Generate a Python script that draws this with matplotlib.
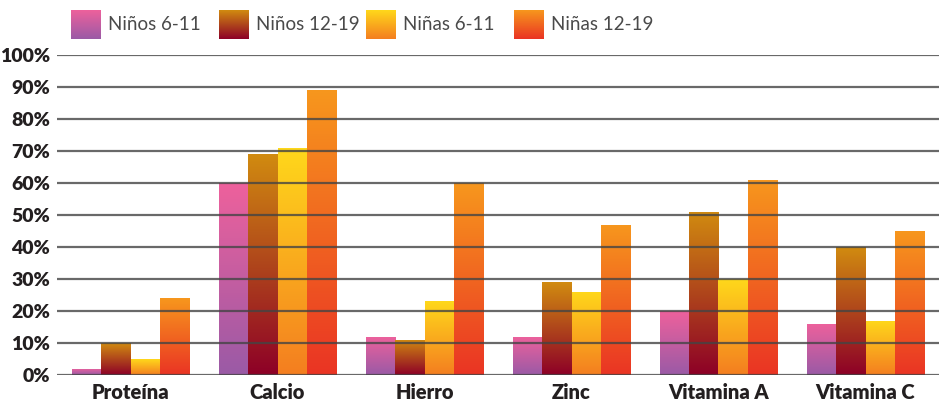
import numpy as np
import matplotlib
matplotlib.use("Agg")
import matplotlib.pyplot as plt
from matplotlib.colors import LinearSegmentedColormap

categories = ["Proteína", "Calcio", "Hierro", "Zinc", "Vitamina A", "Vitamina C"]
series_names = ["Niños 6-11", "Niños 12-19", "Niñas 6-11", "Niñas 12-19"]
ninos_6_11 = [2, 60, 12, 12, 20, 16]
ninos_12_19 = [10, 69, 11, 29, 51, 40]
ninas_6_11 = [5, 71, 23, 26, 30, 17]
ninas_12_19 = [24, 89, 60, 47, 61, 45]
yticks = [0, 10, 20, 30, 40, 50, 60, 70, 80, 90, 100]
ytick_labels = ["0%", "10%", "20%", "30%", "40%", "50%", "60%", "70%", "80%", "90%", "100%"]

series = [ninos_6_11, ninos_12_19, ninas_6_11, ninas_12_19]
# (top color, bottom color)
grads = [("#ee619c", "#9a5aa6"), ("#d18b10", "#8d0027"),
         ("#ffd81b", "#f47e20"), ("#f7971d", "#ea3424")]

plt.rcParams['font.family'] = ['Lato', 'DejaVu Sans']
W, H = 941, 405
fig = plt.figure(figsize=(W / 100, H / 100), dpi=100)
ax = fig.add_axes([57 / W, 1 - 375 / H, (939 - 57) / W, (375 - 55) / H])

n = len(series)
group_w = 0.8
bw = group_w / n
x = np.arange(len(categories))
grad = np.linspace(1, 0, 256).reshape(-1, 1)
for i, (vals, (ctop, cbot)) in enumerate(zip(series, grads)):
    cmap = LinearSegmentedColormap.from_list(f"g{i}", [cbot, ctop])
    pos = x - group_w / 2 + bw * (i + 0.5)
    bars = ax.bar(pos, vals, width=bw, color="none", edgecolor="none", zorder=2)
    for b in bars:
        bx, by = b.get_x(), b.get_y()
        w, h = b.get_width(), b.get_height()
        im = ax.imshow(grad, cmap=cmap, extent=[bx, bx + w, by, by + h],
                       aspect="auto", zorder=2, interpolation="bicubic", vmin=0, vmax=1)
        im.set_clip_path(b)

ax.set_xlim(-0.5, len(categories) - 0.5)
ax.set_ylim(0, 100)
for yv in yticks:
    ax.axhline(yv, color="#444444", lw=1.6, alpha=0.8, zorder=3)
ax.set_yticks(yticks)
ax.set_yticklabels(ytick_labels, fontsize=14, fontweight="heavy", color="#231f20")
ax.set_xticks(x)
ax.set_xticklabels(categories, fontsize=14.5, fontweight="heavy", color="#231f20")
ax.tick_params(axis="both", length=0)
ax.tick_params(axis="y", pad=5)
ax.tick_params(axis="x", pad=6)
for s in ax.spines.values():
    s.set_visible(False)

# legend
sw_x = [71, 219, 366, 514]
for i, (name, (ctop, cbot)) in enumerate(zip(series_names, grads)):
    cmap = LinearSegmentedColormap.from_list(f"l{i}", [cbot, ctop])
    lax = fig.add_axes([sw_x[i] / W, 1 - 39 / H, 30 / W, 29 / H])
    lax.imshow(grad, cmap=cmap, aspect="auto", interpolation="bicubic", vmin=0, vmax=1)
    lax.axis("off")
    fig.text((sw_x[i] + 37) / W, 1 - 25 / H, name, fontsize=13.5, fontweight="normal",
             color="#4a4a4a", va="center", ha="left")

fig.savefig("out.png", dpi=100)
